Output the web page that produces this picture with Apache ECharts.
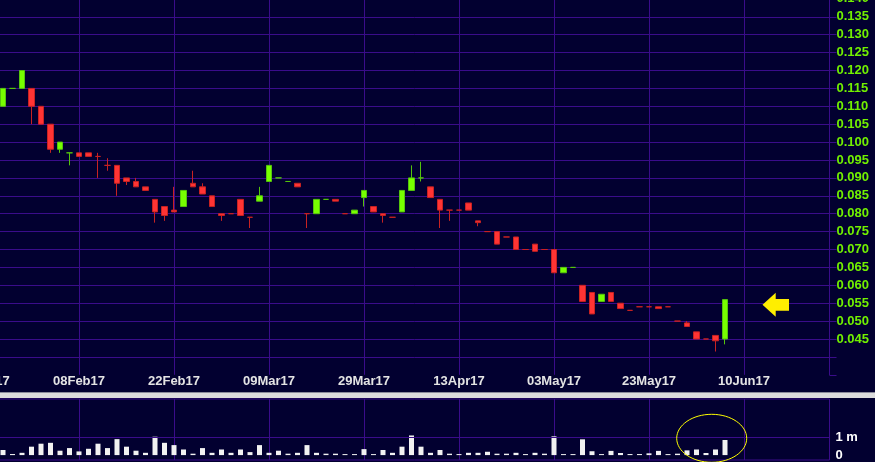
<!DOCTYPE html>
<html>
<head>
<meta charset="utf-8">
<script src="https://cdn.jsdelivr.net/npm/echarts@6/dist/echarts.min.js"></script>
<style>
  html, body { margin: 0; padding: 0; background: #020030; }
  #chart { width: 875px; height: 462px; }
</style>
</head>
<body>
<div id="chart"></div>
<script>
// ---- data ----
// tick labels shown every 10 bars on the date axis
const tickLabels = ['24Jan17', '08Feb17', '22Feb17', '09Mar17', '29Mar17', '13Apr17', '03May17', '23May17', '10Jun17'];

// daily prices (one entry per trading bar)
const opens  = [0.110,0.115,0.115,0.115,0.110,0.105,0.098,0.097,0.097,0.097,
                0.096,0.0935,0.0935,0.090,0.089,0.0875,0.084,0.082,0.081,0.082,
                0.0885,0.0875,0.085,0.080,0.080,0.084,0.079,0.0835,0.089,0.090,
                0.089,0.0885,0.080,0.080,0.084,0.084,0.080,0.080,0.0845,0.082,
                0.080,0.079,0.0805,0.0865,0.090,0.0875,0.084,0.081,0.081,0.083,
                0.078,0.075,0.075,0.0735,0.0735,0.070,0.0715,0.070,0.070,0.0635,
                0.065,0.060,0.058,0.0555,0.058,0.055,0.053,0.054,0.054,0.054,
                0.054,0.050,0.0495,0.047,0.045,0.046,0.045];
const closes = [0.115,0.115,0.120,0.110,0.105,0.098,0.100,0.097,0.096,0.096,
                0.096,0.0935,0.0885,0.089,0.0875,0.0865,0.0805,0.0795,0.0805,0.0865,
                0.0875,0.0855,0.082,0.0795,0.080,0.0795,0.079,0.085,0.0935,0.090,
                0.089,0.0875,0.080,0.084,0.084,0.0835,0.080,0.081,0.0865,0.0805,
                0.0795,0.079,0.0865,0.090,0.090,0.0845,0.081,0.081,0.081,0.081,
                0.0775,0.075,0.0715,0.0735,0.070,0.070,0.0695,0.070,0.0635,0.065,
                0.065,0.0555,0.052,0.0575,0.0555,0.0535,0.053,0.054,0.054,0.0535,
                0.054,0.050,0.0485,0.045,0.045,0.0445,0.056];
const lows   = [0.110,0.115,0.115,0.105,0.105,0.097,0.097,0.0935,0.096,0.096,
                0.090,0.092,0.085,0.088,0.0875,0.0865,0.0775,0.078,0.0805,0.082,
                0.0875,0.0855,0.082,0.078,0.080,0.0795,0.076,0.0835,0.089,0.090,
                0.089,0.0875,0.076,0.080,0.084,0.0835,0.080,0.080,0.082,0.0805,
                0.0775,0.079,0.0805,0.0865,0.089,0.0845,0.076,0.078,0.081,0.081,
                0.0765,0.075,0.0715,0.0735,0.070,0.070,0.0695,0.070,0.0635,0.0635,
                0.065,0.0555,0.052,0.0555,0.0555,0.0535,0.053,0.054,0.054,0.0535,
                0.054,0.050,0.0485,0.045,0.045,0.0415,0.0435];
const highs  = [0.115,0.115,0.120,0.115,0.110,0.105,0.100,0.097,0.097,0.097,
                0.097,0.0955,0.0935,0.090,0.090,0.0875,0.084,0.082,0.0875,0.0865,
                0.092,0.0885,0.085,0.080,0.080,0.084,0.079,0.0875,0.0935,0.090,
                0.089,0.0885,0.080,0.084,0.084,0.084,0.080,0.081,0.0865,0.082,
                0.080,0.079,0.0865,0.0935,0.0945,0.0875,0.084,0.081,0.081,0.083,
                0.078,0.075,0.075,0.0735,0.0735,0.070,0.0715,0.070,0.070,0.065,
                0.065,0.060,0.058,0.0575,0.058,0.055,0.053,0.054,0.054,0.054,
                0.054,0.050,0.050,0.047,0.045,0.046,0.056];
// bars where open == close but drawn in green
const dojiUp = [1, 7, 29, 30, 34, 44, 60];

// daily volume, millions of shares
const volumes = [0.29,0.06,0.13,0.48,0.65,0.70,0.25,0.40,0.21,0.36,
                 0.65,0.40,0.91,0.48,0.25,0.13,1.05,0.70,0.57,0.32,
                 0.08,0.40,0.13,0.32,0.13,0.32,0.17,0.57,0.13,0.25,
                 0.08,0.13,0.57,0.13,0.08,0.08,0.03,0.03,0.34,0.03,
                 0.29,0.13,0.48,1.12,0.48,0.13,0.29,0.08,0.03,0.13,
                 0.13,0.19,0.08,0.08,0.13,0.03,0.13,0.08,1.07,0.03,
                 0.03,0.90,0.22,0.04,0.24,0.12,0.06,0.06,0.10,0.24,
                 0.04,0.08,0.27,0.32,0.12,0.32,0.86];

// the date axis starts 2 slots before the first drawn bar and runs on past the last one
const leadSlots = 2;
const totalSlots = 90;

// ---- styling ----
const BG = '#020030';
const GRID = '#3a0c8a';
const UP = '#77ff00', UP_BORDER = '#55c40c';
const DOWN = '#ff3434', DOWN_BORDER = '#c82222';

const cats = [];
for (let i = 0; i < totalSlots; i++) cats.push(String(i));

const candleData = [];
const volData = [];
for (let i = 0; i < leadSlots; i++) { candleData.push('-'); volData.push('-'); }
for (let i = 0; i < opens.length; i++) {
  const v = [opens[i], closes[i], lows[i], highs[i]];
  if (opens[i] === closes[i]) {
    const c = dojiUp.indexOf(i) >= 0 ? UP_BORDER : DOWN_BORDER;
    candleData.push({ value: v, itemStyle: { borderColor: c, borderColor0: c, borderColorDoji: c } });
  } else {
    candleData.push(v);
  }
  volData.push(volumes[i]);
}

const yMin = 0.035, yMax = 0.140, yStep = 0.005;
const nLines = Math.round((yMax - yMin) / yStep) + 1;
const splitColors = [];
for (let i = 0; i < nLines; i++) splitColors.push(i < 2 ? 'rgba(0,0,0,0)' : GRID);

const every10 = (idx) => idx % 10 === 0;

const chart = echarts.init(document.getElementById('chart'), null, { renderer: 'canvas' });
chart.setOption({
  backgroundColor: BG,
  animation: false,
  grid: [
    { left: -16, width: 845.5, top: -1.1, height: 375.9, outerBoundsMode: 'none', containLabel: false },
    { left: -16, width: 845.5, top: 399, height: 61, outerBoundsMode: 'none', containLabel: false,
      show: true, borderColor: GRID, borderWidth: 1, backgroundColor: 'rgba(0,0,0,0)' }
  ],
  xAxis: [
    {
      type: 'category', gridIndex: 0, data: cats, boundaryGap: false,
      axisLine: { show: false }, axisTick: { show: false },
      axisLabel: {
        interval: every10, showMinLabel: true, showMaxLabel: true,
        formatter: (val, idx) => (idx % 10 === 0 ? (tickLabels[idx / 10] || '') : ''),
        color: '#e4e4e4', fontWeight: 'bold', fontSize: 13, fontFamily: 'Liberation Sans', margin: 0
      },
      splitLine: { show: true, interval: every10, lineStyle: { color: GRID, width: 1 } }
    },
    {
      type: 'category', gridIndex: 1, data: cats, boundaryGap: false,
      axisLine: { show: false }, axisTick: { show: false }, axisLabel: { show: false },
      splitLine: { show: true, interval: every10, lineStyle: { color: GRID, width: 1 } }
    }
  ],
  yAxis: [
    {
      type: 'value', gridIndex: 0, position: 'right', min: yMin, max: yMax, interval: yStep,
      axisLine: { show: true, lineStyle: { color: GRID, width: 1 } },
      axisTick: { show: true, length: 7, lineStyle: { color: GRID } },
      axisLabel: {
        showMinLabel: true, showMaxLabel: true, margin: 7,
        formatter: (v) => (v < 0.0449 ? '' : v.toFixed(3)),
        color: '#72f000', fontWeight: 'bold', fontSize: 13, fontFamily: 'Liberation Sans'
      },
      splitLine: { show: true, lineStyle: { color: splitColors, width: 1 } }
    },
    {
      type: 'value', gridIndex: 1, position: 'right', min: -0.28, max: 3.2,
      axisLine: { show: false }, axisTick: { show: false }, axisLabel: { show: false }, splitLine: { show: false }
    }
  ],
  series: [
    {
      type: 'candlestick', xAxisIndex: 0, yAxisIndex: 0, data: candleData, barWidth: 6, clip: false,
      itemStyle: { color: UP, color0: DOWN, borderColor: UP_BORDER, borderColor0: DOWN_BORDER, borderWidth: 1 },
      markLine: {
        silent: true, symbol: 'none', animation: false,
        label: { show: false },
        lineStyle: { color: GRID, type: 'solid', width: 1 },
        data: [{ yAxis: 0.03777 }]
      }
    },
    {
      type: 'bar', xAxisIndex: 1, yAxisIndex: 1, data: volData, barWidth: 5, barMinHeight: 1,
      itemStyle: { color: '#f2f2f2' },
      markLine: {
        silent: true, symbol: 'none', animation: false,
        label: { show: true, position: 'end', distance: 6, color: '#ffffff', fontWeight: 'bold', fontSize: 13, fontFamily: 'Liberation Sans' },
        lineStyle: { color: GRID, type: 'solid', width: 1 },
        data: [
          { yAxis: 1, label: { formatter: '1 m' } },
          { yAxis: 0, label: { formatter: '0' }, lineStyle: { color: 'rgba(0,0,0,0)' } }
        ]
      }
    }
  ],
  graphic: [
    { type: 'rect', silent: true, shape: { x: 0, y: 393, width: 875, height: 5 }, style: { fill: '#dcdcdc' } },
    { type: 'rect', silent: true, shape: { x: 0, y: 392, width: 875, height: 1 }, style: { fill: '#8a8a9a' } },
    { type: 'ellipse', silent: true, z: 100, shape: { cx: 711.7, cy: 438.3, rx: 35, ry: 24 }, style: { fill: 'none', stroke: '#ffff00', lineWidth: 1 } },
    { type: 'polygon', silent: true, z: 100, shape: { points: [[762.5, 304.7], [775.7, 292.7], [775.7, 299], [789, 299], [789, 310.7], [775.7, 310.7], [775.7, 316.7]] }, style: { fill: '#ffee00' } }
  ]
});
</script>
</body>
</html>
